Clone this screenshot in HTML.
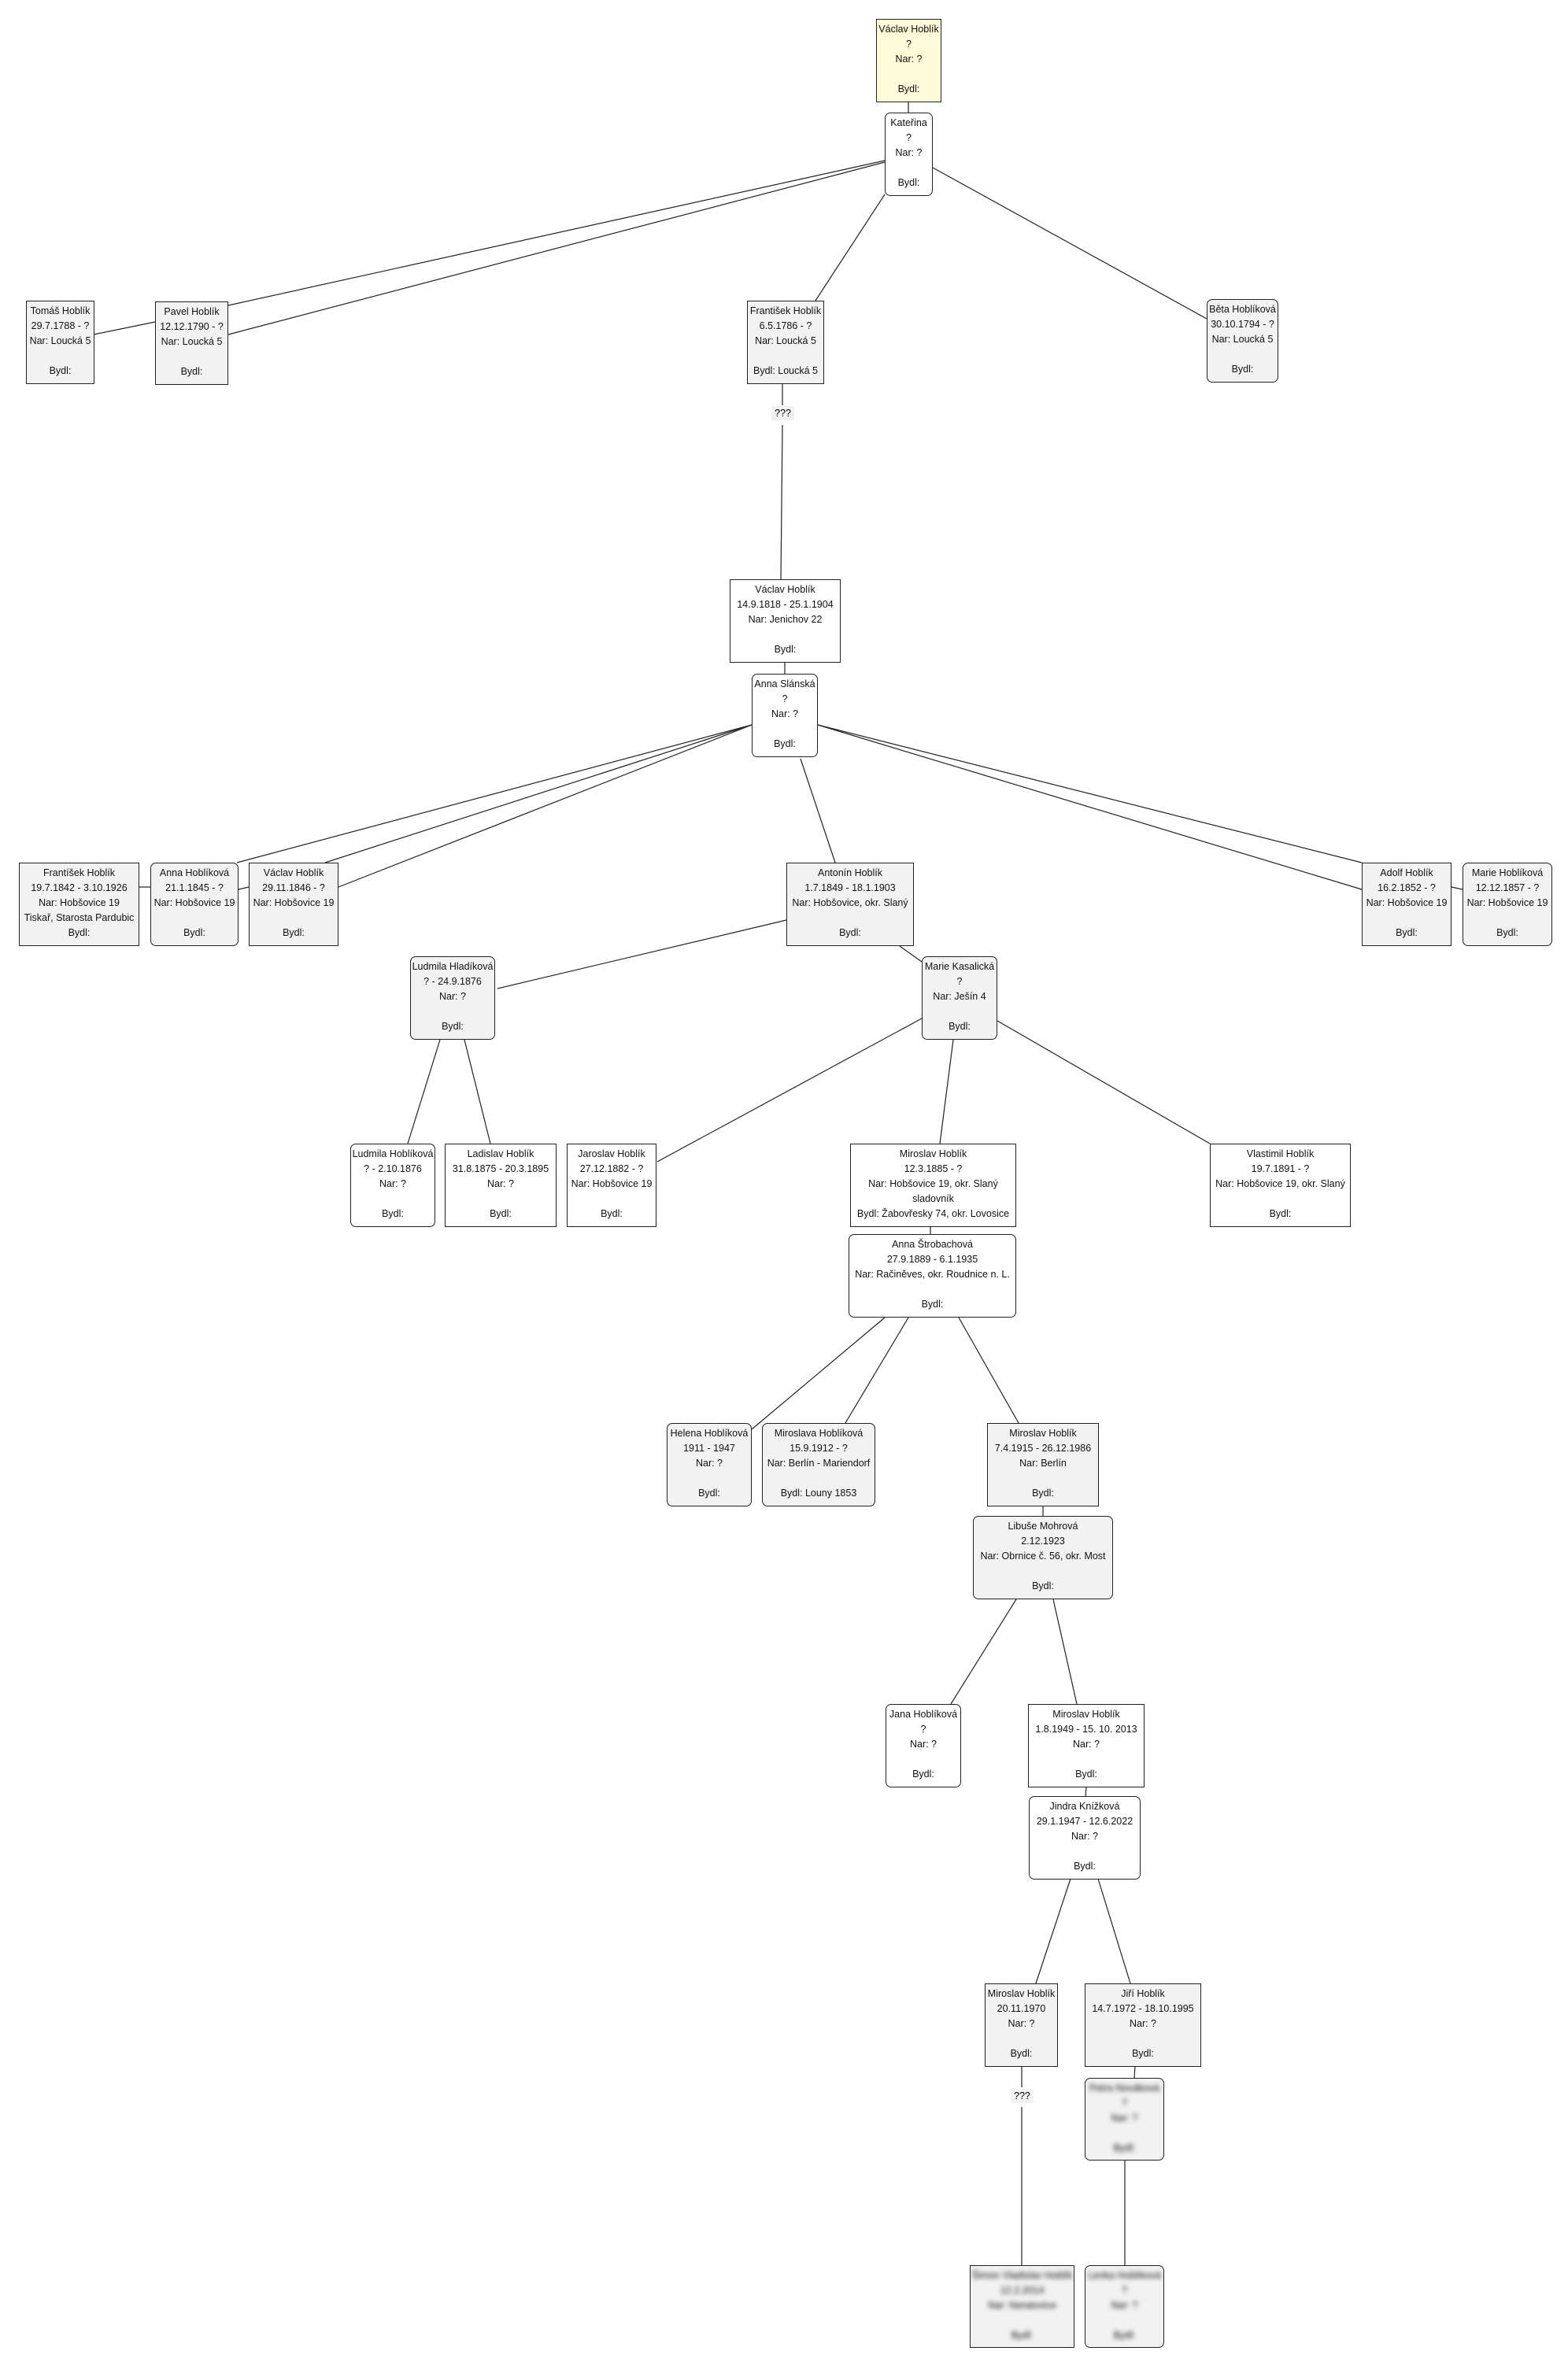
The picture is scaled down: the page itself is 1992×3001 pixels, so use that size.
<!DOCTYPE html>
<html><head><meta charset="utf-8"><style>
body{margin:0;width:1992px;height:3001px;background:#fff;position:relative;overflow:hidden;font-family:"Liberation Sans","DejaVu Sans",sans-serif;}
.n{position:absolute;box-sizing:border-box;border:1.5px solid #222;background:#f2f2f2;font-size:12.5px;color:#111;text-align:center;line-height:19px;padding-top:3px;white-space:nowrap;overflow:hidden}
.r{border-radius:7px}
.w{background:#fff}
.y{background:#fdfbd8}
.b{filter:blur(3px)}
.q{position:absolute;background:#f2f2f2;font-size:12.5px;padding:2px 4px;font-family:"Liberation Sans",sans-serif}
svg{position:absolute;left:0;top:0}
</style></head><body>
<svg width="1992" height="3001" stroke="#222" stroke-width="1.2" fill="none">
<line x1="1154" y1="130" x2="1154" y2="143"/>
<line x1="1124" y1="204" x2="290" y2="388"/>
<line x1="1124" y1="206" x2="290" y2="425"/>
<line x1="119" y1="425" x2="197" y2="409"/>
<line x1="1124" y1="247" x2="1036" y2="382"/>
<line x1="1185" y1="213" x2="1533" y2="405"/>
<line x1="994" y1="488" x2="994" y2="515"/>
<line x1="994" y1="540" x2="992" y2="736"/>
<line x1="997" y1="842" x2="997" y2="856"/>
<line x1="955" y1="921" x2="301" y2="1096"/>
<line x1="955" y1="921" x2="413" y2="1096"/>
<line x1="955" y1="921" x2="430" y2="1127"/>
<line x1="177" y1="1127" x2="191" y2="1127"/>
<line x1="303" y1="1130" x2="316" y2="1127"/>
<line x1="1039" y1="921" x2="1730" y2="1096"/>
<line x1="1039" y1="921" x2="1730" y2="1130"/>
<line x1="1844" y1="1127" x2="1858" y2="1130"/>
<line x1="1017" y1="964" x2="1061" y2="1096"/>
<line x1="999" y1="1169" x2="632" y2="1256"/>
<line x1="1143" y1="1202" x2="1171" y2="1222"/>
<line x1="559" y1="1321" x2="518" y2="1453"/>
<line x1="590" y1="1321" x2="623" y2="1453"/>
<line x1="1171" y1="1294" x2="835" y2="1476"/>
<line x1="1211" y1="1321" x2="1194" y2="1453"/>
<line x1="1267" y1="1297" x2="1537" y2="1453"/>
<line x1="1182" y1="1559" x2="1182" y2="1568"/>
<line x1="1124" y1="1674" x2="955" y2="1816"/>
<line x1="1154" y1="1674" x2="1074" y2="1808"/>
<line x1="1218" y1="1674" x2="1294" y2="1808"/>
<line x1="1325" y1="1914" x2="1325" y2="1926"/>
<line x1="1291" y1="2032" x2="1208" y2="2165"/>
<line x1="1338" y1="2032" x2="1368" y2="2165"/>
<line x1="1380" y1="2271" x2="1379" y2="2282"/>
<line x1="1360" y1="2387" x2="1316" y2="2520"/>
<line x1="1395" y1="2387" x2="1436" y2="2520"/>
<line x1="1442" y1="2625" x2="1441" y2="2640"/>
<line x1="1298" y1="2625" x2="1298" y2="2652"/>
<line x1="1298" y1="2677" x2="1298" y2="2878"/>
<line x1="1429" y1="2744" x2="1429" y2="2878"/>
</svg>

<div class="n y" style="left:1113px;top:24px;width:83px;height:106px">Václav Hoblík<br>?<br>Nar: ?<br><br>Bydl:</div>
<div class="n r w" style="left:1124px;top:143px;width:61px;height:106px">Kateřina<br>?<br>Nar: ?<br><br>Bydl:</div>
<div class="n" style="left:33px;top:382px;width:87px;height:106px">Tomáš Hoblík<br>29.7.1788 - ?<br>Nar: Loucká 5<br><br>Bydl:</div>
<div class="n" style="left:197px;top:383px;width:93px;height:106px">Pavel Hoblík<br>12.12.1790 - ?<br>Nar: Loucká 5<br><br>Bydl:</div>
<div class="n" style="left:949px;top:382px;width:98px;height:106px">František Hoblík<br>6.5.1786 - ?<br>Nar: Loucká 5<br><br>Bydl: Loucká 5</div>
<div class="n r" style="left:1533px;top:380px;width:91px;height:106px">Běta Hoblíková<br>30.10.1794 - ?<br>Nar: Loucká 5<br><br>Bydl:</div>
<div class="q" style="left:980px;top:516px">???</div>

<div class="n w" style="left:927px;top:736px;width:141px;height:106px">Václav Hoblík<br>14.9.1818 - 25.1.1904<br>Nar: Jenichov 22<br><br>Bydl:</div>
<div class="n r w" style="left:955px;top:856px;width:84px;height:106px">Anna Slánská<br>?<br>Nar: ?<br><br>Bydl:</div>

<div class="n" style="left:24px;top:1096px;width:153px;height:106px">Frantíšek Hoblík<br>19.7.1842 - 3.10.1926<br>Nar: Hobšovice 19<br>Tiskař, Starosta Pardubic<br>Bydl:</div>
<div class="n r" style="left:191px;top:1096px;width:112px;height:106px">Anna Hoblíková<br>21.1.1845 - ?<br>Nar: Hobšovice 19<br><br>Bydl:</div>
<div class="n" style="left:316px;top:1096px;width:114px;height:106px">Václav Hoblík<br>29.11.1846 - ?<br>Nar: Hobšovice 19<br><br>Bydl:</div>
<div class="n" style="left:999px;top:1096px;width:162px;height:106px">Antonín Hoblík<br>1.7.1849 - 18.1.1903<br>Nar: Hobšovice, okr. Slaný<br><br>Bydl:</div>
<div class="n" style="left:1730px;top:1096px;width:114px;height:106px">Adolf Hoblík<br>16.2.1852 - ?<br>Nar: Hobšovice 19<br><br>Bydl:</div>
<div class="n r" style="left:1858px;top:1096px;width:114px;height:106px">Marie Hoblíková<br>12.12.1857 - ?<br>Nar: Hobšovice 19<br><br>Bydl:</div>

<div class="n r" style="left:521px;top:1215px;width:108px;height:106px">Ludmila Hladíková<br>? - 24.9.1876<br>Nar: ?<br><br>Bydl:</div>
<div class="n r" style="left:1171px;top:1215px;width:96px;height:106px">Marie Kasalická<br>?<br>Nar: Ješín 4<br><br>Bydl:</div>

<div class="n r w" style="left:445px;top:1453px;width:108px;height:106px">Ludmila Hoblíková<br>? - 2.10.1876<br>Nar: ?<br><br>Bydl:</div>
<div class="n w" style="left:565px;top:1453px;width:142px;height:106px">Ladislav Hoblík<br>31.8.1875 - 20.3.1895<br>Nar: ?<br><br>Bydl:</div>
<div class="n w" style="left:720px;top:1453px;width:114px;height:106px">Jaroslav Hoblík<br>27.12.1882 - ?<br>Nar: Hobšovice 19<br><br>Bydl:</div>
<div class="n w" style="left:1080px;top:1453px;width:211px;height:106px">Miroslav Hoblík<br>12.3.1885 - ?<br>Nar: Hobšovice 19, okr. Slaný<br>sladovník<br>Bydl: Žabovřesky 74, okr. Lovosice</div>
<div class="n w" style="left:1537px;top:1453px;width:179px;height:106px">Vlastimil Hoblík<br>19.7.1891 - ?<br>Nar: Hobšovice 19, okr. Slaný<br><br>Bydl:</div>

<div class="n r w" style="left:1078px;top:1568px;width:213px;height:106px">Anna Štrobachová<br>27.9.1889 - 6.1.1935<br>Nar: Račiněves, okr. Roudnice n. L.<br><br>Bydl:</div>

<div class="n r" style="left:847px;top:1808px;width:108px;height:106px">Helena Hoblíková<br>1911 - 1947<br>Nar: ?<br><br>Bydl:</div>
<div class="n r" style="left:968px;top:1808px;width:144px;height:106px">Miroslava Hoblíková<br>15.9.1912 - ?<br>Nar: Berlín - Mariendorf<br><br>Bydl: Louny 1853</div>
<div class="n" style="left:1254px;top:1808px;width:142px;height:106px">Miroslav Hoblík<br>7.4.1915 - 26.12.1986<br>Nar: Berlín<br><br>Bydl:</div>
<div class="n r" style="left:1236px;top:1926px;width:178px;height:106px">Libuše Mohrová<br>2.12.1923<br>Nar: Obrnice č. 56, okr. Most<br><br>Bydl:</div>

<div class="n r w" style="left:1125px;top:2165px;width:96px;height:106px">Jana Hoblíková<br>?<br>Nar: ?<br><br>Bydl:</div>
<div class="n w" style="left:1306px;top:2165px;width:148px;height:106px">Miroslav Hoblík<br>1.8.1949 - 15. 10. 2013<br>Nar: ?<br><br>Bydl:</div>
<div class="n r w" style="left:1307px;top:2282px;width:142px;height:106px">Jindra Knížková<br>29.1.1947 - 12.6.2022<br>Nar: ?<br><br>Bydl:</div>

<div class="n" style="left:1251px;top:2520px;width:93px;height:106px">Miroslav Hoblík<br>20.11.1970<br>Nar: ?<br><br>Bydl:</div>
<div class="n" style="left:1378px;top:2520px;width:148px;height:106px">Jiří Hoblík<br>14.7.1972 - 18.10.1995<br>Nar: ?<br><br>Bydl:</div>
<div class="n r" style="left:1378px;top:2640px;width:101px;height:105px"><div class="b">Petra Nováková<br>?<br>Nar: ?<br><br>Bydl:</div></div>
<div class="q" style="left:1284px;top:2654px">???</div>
<div class="n" style="left:1232px;top:2878px;width:133px;height:105px"><div class="b">Šimon Vladislav Hoblík<br>12.2.2014<br>Nar: Neratovice<br><br>Bydl:</div></div>
<div class="n r" style="left:1378px;top:2878px;width:101px;height:105px"><div class="b">Lenka Hoblíková<br>?<br>Nar: ?<br><br>Bydl:</div></div>
</body></html>
